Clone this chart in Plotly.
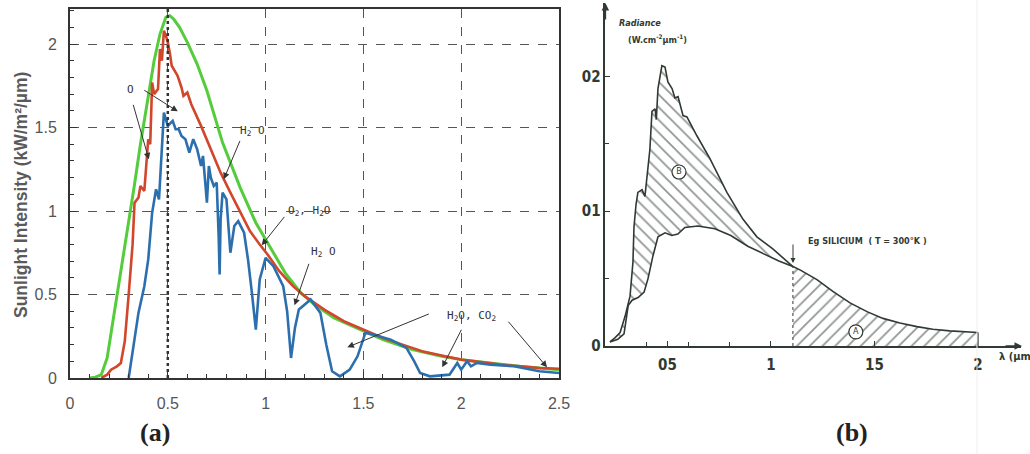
import plotly.graph_objects as go

W, H = 1030, 454

# ---------------- Panel (a) data : wavelength (µm) vs intensity (kW/m²/µm)
green_x = [0.10, 0.13, 0.16, 0.19, 0.21, 0.24, 0.27, 0.30, 0.33, 0.36, 0.40, 0.43, 0.46, 0.49,
           0.51, 0.53, 0.56, 0.60, 0.65, 0.70, 0.78, 0.87, 0.95, 1.00, 1.10, 1.18, 1.25, 1.35,
           1.50, 1.60, 1.75, 1.90, 2.00, 2.15, 2.30, 2.50]
green_y = [0.00, 0.005, 0.02, 0.12, 0.27, 0.49, 0.70, 0.93, 1.16, 1.40, 1.68, 1.90, 2.06, 2.16,
           2.17, 2.15, 2.10, 2.01, 1.88, 1.72, 1.41, 1.14, 0.93, 0.83, 0.63, 0.51, 0.44, 0.36,
           0.28, 0.23, 0.17, 0.13, 0.11, 0.09, 0.07, 0.05]

red_x = [0.16, 0.19, 0.21, 0.24, 0.26, 0.28, 0.30, 0.32, 0.33, 0.35, 0.36, 0.38, 0.40, 0.41,
         0.42, 0.43, 0.45, 0.46, 0.47, 0.48, 0.49, 0.50, 0.51, 0.52, 0.54, 0.55, 0.57, 0.58,
         0.60, 0.62, 0.67, 0.72, 0.77, 0.82, 0.87, 0.92, 0.97, 1.01, 1.07, 1.14, 1.20, 1.30,
         1.40, 1.50, 1.60, 1.70, 1.80, 1.90, 2.00, 2.10, 2.20, 2.30, 2.40, 2.50]
red_y = [0.00, 0.02, 0.05, 0.07, 0.09, 0.22, 0.50, 0.80, 1.05, 1.08, 1.15, 1.12, 1.43, 1.40,
         1.77, 1.70, 1.73, 1.97, 1.90, 2.08, 2.05, 2.01, 1.95, 1.87, 1.83, 1.81, 1.74, 1.69,
         1.71, 1.64, 1.51, 1.37, 1.23, 1.11, 0.99, 0.88, 0.80, 0.74, 0.64, 0.55, 0.49, 0.41,
         0.34, 0.29, 0.24, 0.20, 0.16, 0.135, 0.11, 0.095, 0.08, 0.07, 0.06, 0.055]

blue_x = [0.30, 0.32, 0.35, 0.38, 0.40, 0.42, 0.43, 0.44, 0.455, 0.47, 0.48, 0.50, 0.525, 0.54,
          0.556, 0.57, 0.59, 0.61, 0.63, 0.65, 0.67, 0.68, 0.69, 0.70, 0.71, 0.72, 0.735, 0.75,
          0.76, 0.765, 0.77, 0.78, 0.80, 0.82, 0.84, 0.86, 0.89, 0.91, 0.93, 0.95, 0.97, 1.00,
          1.04, 1.09, 1.11, 1.13, 1.15, 1.17, 1.19, 1.23, 1.28, 1.31, 1.34, 1.38, 1.43, 1.47,
          1.51, 1.55, 1.64, 1.72, 1.76, 1.79, 1.84, 1.94, 1.98, 2.00, 2.03, 2.05, 2.08, 2.15,
          2.27, 2.40, 2.50]
blue_y = [0.00, 0.15, 0.39, 0.55, 0.71, 0.99, 1.07, 1.13, 1.07, 1.41, 1.59, 1.51, 1.54, 1.49,
          1.49, 1.45, 1.43, 1.35, 1.43, 1.37, 1.27, 1.33, 1.19, 1.05, 1.27, 1.20, 1.15, 1.17,
          0.85, 0.62, 0.95, 1.11, 1.07, 0.75, 0.91, 0.94, 0.87, 0.71, 0.51, 0.29, 0.59, 0.72,
          0.67, 0.55, 0.40, 0.12, 0.30, 0.41, 0.43, 0.47, 0.39, 0.20, 0.04, 0.01, 0.05, 0.13,
          0.27, 0.26, 0.23, 0.18, 0.10, 0.03, 0.01, 0.02, 0.09, 0.05, 0.10, 0.07, 0.09, 0.08,
          0.07, 0.04, 0.03]

a_xticks = [0, 0.5, 1, 1.5, 2, 2.5]
a_yticks = [0, 0.5, 1, 1.5, 2]

# ---------------- Panel (b) data : radiance (W.cm-2.µm-1)
upper_x = [0.222, 0.246, 0.271, 0.295, 0.319, 0.333, 0.338, 0.348, 0.357, 0.377, 0.391, 0.415,
           0.425, 0.440, 0.446, 0.454, 0.473, 0.488, 0.502, 0.522, 0.536, 0.551, 0.575, 0.594,
           0.642, 0.705, 0.787, 0.865, 0.932, 1.009, 1.106]
upper_y = [0.003, 0.006, 0.010, 0.022, 0.037, 0.062, 0.088, 0.105, 0.114, 0.116, 0.111, 0.146,
           0.174, 0.176, 0.168, 0.191, 0.208, 0.207, 0.196, 0.191, 0.184, 0.185, 0.171, 0.170,
           0.156, 0.139, 0.114, 0.094, 0.081, 0.072, 0.059]

lower_x = [0.222, 0.260, 0.290, 0.300, 0.310, 0.329, 0.358, 0.387, 0.406, 0.430, 0.454, 0.488,
           0.521, 0.550, 0.584, 0.647, 0.729, 0.806, 0.888, 0.970, 1.038, 1.106]
lower_y = [0.003, 0.005, 0.009, 0.018, 0.030, 0.034, 0.036, 0.040, 0.050, 0.067, 0.081, 0.084,
           0.082, 0.083, 0.088, 0.089, 0.087, 0.082, 0.074, 0.068, 0.063, 0.059]

tail_x = [1.106, 1.140, 1.222, 1.299, 1.382, 1.464, 1.541, 1.623, 1.705, 1.782, 1.864, 1.947, 2.000]
tail_y = [0.059, 0.0565, 0.0493, 0.0405, 0.0320, 0.0255, 0.0205, 0.0170, 0.0144, 0.0124, 0.0112,
          0.0105, 0.0100]

b_xtickvals = [0.5, 1, 1.5, 2]
b_xticktext = ["05", "1", "15", "2"]
b_ytickvals = [0, 0.1, 0.2]
b_yticktext = ["0", "01", "02"]

INK = "#2f3a33"
MONO = "DejaVu Sans Mono"
NARROW = "Liberation Sans Narrow, DejaVu Sans Condensed, Liberation Sans, sans-serif"

def px(x):
    return x / W

def py(y):
    return 1 - y / H

fig = go.Figure()

# ---- panel (a) curves
fig.add_trace(go.Scatter(x=green_x, y=green_y, mode="lines",
                         line=dict(color="#55cc3c", width=3), xaxis="x", yaxis="y"))
fig.add_trace(go.Scatter(x=red_x, y=red_y, mode="lines",
                         line=dict(color="#d2472b", width=2.6), xaxis="x", yaxis="y"))
fig.add_trace(go.Scatter(x=blue_x, y=blue_y, mode="lines",
                         line=dict(color="#2c6fae", width=2.6), xaxis="x", yaxis="y"))

# ---- panel (b) regions
poly_x = upper_x + lower_x[::-1]
poly_y = upper_y + lower_y[::-1]
fig.add_trace(go.Scatter(x=poly_x, y=poly_y, mode="lines", fill="toself",
                         line=dict(width=0), fillcolor="rgba(255,255,255,0)",
                         fillpattern=dict(shape="\\", size=9, solidity=0.2, fgcolor="#26302a"),
                         xaxis="x2", yaxis="y2"))
fig.add_trace(go.Scatter(x=tail_x, y=tail_y, mode="lines", fill="tozeroy",
                         line=dict(color=INK, width=1.6), fillcolor="rgba(255,255,255,0)",
                         fillpattern=dict(shape="/", size=9, solidity=0.2, fgcolor="#26302a"),
                         xaxis="x2", yaxis="y2"))
fig.add_trace(go.Scatter(x=upper_x, y=upper_y, mode="lines",
                         line=dict(color=INK, width=1.6), xaxis="x2", yaxis="y2"))
fig.add_trace(go.Scatter(x=lower_x, y=lower_y, mode="lines",
                         line=dict(color=INK, width=1.6), xaxis="x2", yaxis="y2"))
# circled region labels
fig.add_trace(go.Scatter(x=[0.5556, 1.410], y=[0.1291, 0.0105], mode="markers+text",
                         text=["B", "A"], textposition="middle center",
                         textfont=dict(size=9, color=INK, family=NARROW),
                         marker=dict(symbol="circle", size=14, color="white",
                                     line=dict(color=INK, width=1.2)),
                         xaxis="x2", yaxis="y2"))

shapes = [
    # heavy dotted line at 0.5 µm in (a)
    dict(type="line", xref="x", yref="y", x0=0.5, x1=0.5, y0=0, y1=2.21,
         line=dict(color="#333", width=2.5, dash="dot")),
    # band-gap dashed line in (b)
    dict(type="line", xref="x2", yref="y2", x0=tail_x[0], x1=tail_x[0], y0=0, y1=tail_y[0],
         line=dict(color=INK, width=1, dash="dot")),
    dict(type="line", xref="x2", yref="y2", x0=tail_x[-1], x1=tail_x[-1], y0=0, y1=tail_y[-1],
         line=dict(color=INK, width=1.4)),
    # faint scan edge
    dict(type="line", xref="paper", yref="paper", x0=px(977), x1=px(977), y0=0, y1=1,
         line=dict(color="#efefef", width=1)),
]

ann = []
# ---- (a) gas-absorption labels
def text_a(x, y, t):
    ann.append(dict(x=x, y=y, xref="x", yref="y", text=t, showarrow=False,
                    xanchor="center", yanchor="middle",
                    font=dict(family=MONO, size=11, color="#333")))

def arrow_a(xh, yh, xt, yt):
    ann.append(dict(x=xh, y=yh, xref="x", yref="y", ax=xt, ay=yt, axref="x", ayref="y",
                    text="", showarrow=True, arrowhead=2, arrowsize=1.3, arrowwidth=1,
                    arrowcolor="#333"))

text_a(0.311, 1.73, "O")
arrow_a(0.551, 1.597, 0.372, 1.729)
arrow_a(0.403, 1.310, 0.321, 1.645)
text_a(0.934, 1.477, "H<sub>2</sub> O")
arrow_a(0.786, 1.190, 0.872, 1.429)
text_a(1.224, 0.998, "O<sub>2</sub>, H<sub>2</sub>O")
arrow_a(0.980, 0.795, 1.102, 0.974)
text_a(1.296, 0.753, "H<sub>2</sub> O")
arrow_a(1.148, 0.435, 1.224, 0.693)
text_a(2.051, 0.370, "H<sub>2</sub>O, CO<sub>2</sub>")
arrow_a(1.418, 0.184, 1.842, 0.387)
arrow_a(1.903, 0.064, 2.005, 0.298)
arrow_a(2.439, 0.064, 2.235, 0.346)

def paper_text(x, y, t, font, xanchor="center", **kw):
    ann.append(dict(x=px(x), y=py(y), xref="paper", yref="paper", text=t, showarrow=False,
                    xanchor=xanchor, yanchor="middle", font=font, **kw))

# y-axis title of (a)
paper_text(21, 195, "<b>Sunlight Intensity (kW/m²/µm)</b>",
           dict(family="Liberation Sans, Arial", size=17.5, color="#5a5a5a"), textangle=-90)
# panel letters
paper_text(155, 432, "<b>(a)</b>", dict(family="Liberation Serif, Times New Roman", size=26,
                                        color="#222"))
paper_text(852, 432, "<b>(b)</b>", dict(family="Liberation Serif, Times New Roman", size=26,
                                        color="#222"))

# ---- (b) texts and arrows
paper_text(617, 23, "<i><b>Radiance</b></i>", dict(family=NARROW, size=9, color=INK),
           xanchor="left")
paper_text(626, 39, "<b>(W.cm<sup>-2</sup>µm<sup>-1</sup>)</b>",
           dict(family=NARROW, size=9, color=INK), xanchor="left")
paper_text(806, 241, "<b>Eg SILICIUM  ( T = 300°K )</b>", dict(family=NARROW, size=9, color=INK),
           xanchor="left")
paper_text(997, 356, "<b>λ (µm</b>", dict(family=NARROW, size=11, color=INK), xanchor="left")

ann.append(dict(x=px(793), y=py(263), xref="paper", yref="paper", ax=0, ay=-20,
                text="", showarrow=True, arrowhead=2, arrowsize=1, arrowwidth=1,
                arrowcolor=INK))
# axis arrows
ann.append(dict(x=px(1022), y=py(346), xref="paper", yref="paper", ax=-18, ay=0,
                text="", showarrow=True, arrowhead=2, arrowsize=1, arrowwidth=1.5,
                arrowcolor=INK))
ann.append(dict(x=px(605.4), y=py(3), xref="paper", yref="paper", ax=0, ay=18,
                text="", showarrow=True, arrowhead=2, arrowsize=1, arrowwidth=1.5,
                arrowcolor=INK))

axis_a_common = dict(showline=True, mirror=True, linewidth=2, linecolor="#333",
                     showgrid=True, gridcolor="#555", gridwidth=1, griddash="dash",
                     zeroline=False, ticks="inside", ticklen=7, tickcolor="#333",
                     automargin=False,
                     tickfont=dict(family="Liberation Sans, Arial", size=16, color="#555"),
                     minor=dict(dtick=0.1, ticks="inside", ticklen=4, tickcolor="#333",
                                showgrid=False))

fig.update_layout(
    width=W, height=H, margin=dict(l=0, r=0, t=0, b=0, autoexpand=False),
    paper_bgcolor="white", plot_bgcolor="rgba(0,0,0,0)", showlegend=False,
    xaxis=dict(domain=[px(70), px(559)], range=[0, 2.5], tickvals=a_xticks,
               ticktext=[str(v) for v in a_xticks], anchor="y", ticklabelstandoff=10,
               **axis_a_common),
    yaxis=dict(domain=[py(378), py(9)], range=[0, 2.21], tickvals=a_yticks,
               ticktext=[str(v) for v in a_yticks], anchor="x", ticklabelstandoff=8,
               **axis_a_common),
    xaxis2=dict(domain=[px(605.4), px(1021.4)], range=[0.2, 2.21], anchor="y2",
                tickvals=b_xtickvals, ticktext=b_xticktext, showgrid=False, zeroline=False,
                showline=True, linewidth=1.5, linecolor=INK, ticks="inside", ticklen=5,
                tickcolor=INK, ticklabelstandoff=4, automargin=False,
                minor=dict(tickvals=[0.4, 0.6, 0.8], ticks="inside", ticklen=4, tickcolor=INK),
                tickfont=dict(family=NARROW, size=15, color=INK, weight="bold")),
    yaxis2=dict(domain=[py(346), py(3)], range=[0, 0.2545], anchor="x2",
                tickvals=b_ytickvals, ticktext=b_yticktext, showgrid=False, zeroline=False,
                showline=True, linewidth=1.5, linecolor=INK, ticks="inside", ticklen=5,
                tickcolor=INK, ticklabelstandoff=0, automargin=False,
                minor=dict(tickvals=[0.05, 0.15], ticks="inside", ticklen=4, tickcolor=INK),
                tickfont=dict(family=NARROW, size=15, color=INK, weight="bold")),
    shapes=shapes, annotations=ann,
)

fig.write_html("out.html")
